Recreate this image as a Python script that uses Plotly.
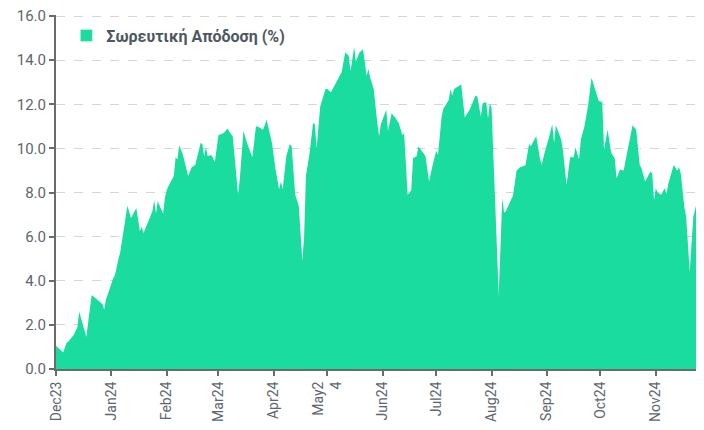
import plotly.graph_objects as go

series_name = "Σωρευτική Απόδοση (%)"

dates = [
    "2023-12-01", "2023-12-05", "2023-12-07", "2023-12-08", "2023-12-11", "2023-12-13", "2023-12-14",
    "2023-12-18", "2023-12-20", "2023-12-21", "2023-12-24", "2023-12-27", "2023-12-28", "2023-12-29",
    "2024-01-02", "2024-01-03", "2024-01-05", "2024-01-06", "2024-01-10", "2024-01-12", "2024-01-15",
    "2024-01-17", "2024-01-18", "2024-01-19", "2024-01-24", "2024-01-25", "2024-01-26", "2024-01-27",
    "2024-01-30", "2024-01-31", "2024-02-01", "2024-02-02", "2024-02-05", "2024-02-06", "2024-02-07",
    "2024-02-08", "2024-02-10", "2024-02-13", "2024-02-15", "2024-02-17", "2024-02-20", "2024-02-21",
    "2024-02-22", "2024-02-23", "2024-02-24", "2024-02-26", "2024-02-28", "2024-03-01", "2024-03-04",
    "2024-03-06", "2024-03-08", "2024-03-09", "2024-03-12", "2024-03-13", "2024-03-15", "2024-03-17",
    "2024-03-20", "2024-03-22", "2024-03-23", "2024-03-26", "2024-03-28", "2024-03-31", "2024-04-02",
    "2024-04-04", "2024-04-05", "2024-04-06", "2024-04-08", "2024-04-10", "2024-04-11", "2024-04-13",
    "2024-04-15", "2024-04-17", "2024-04-18", "2024-04-19", "2024-04-21", "2024-04-23", "2024-04-24",
    "2024-04-25", "2024-04-27", "2024-04-30", "2024-05-01", "2024-05-03", "2024-05-06", "2024-05-09",
    "2024-05-11", "2024-05-13", "2024-05-14", "2024-05-16", "2024-05-17", "2024-05-19", "2024-05-21",
    "2024-05-23", "2024-05-24", "2024-05-25", "2024-05-27", "2024-05-29", "2024-05-30", "2024-05-31",
    "2024-06-03", "2024-06-04", "2024-06-06", "2024-06-08", "2024-06-10", "2024-06-12", "2024-06-13",
    "2024-06-15", "2024-06-17", "2024-06-18", "2024-06-20", "2024-06-21", "2024-06-25", "2024-06-27",
    "2024-06-29", "2024-07-01", "2024-07-02", "2024-07-04", "2024-07-05", "2024-07-08", "2024-07-09",
    "2024-07-10", "2024-07-11", "2024-07-13", "2024-07-15", "2024-07-17", "2024-07-20", "2024-07-23",
    "2024-07-24", "2024-07-26", "2024-07-27", "2024-07-29", "2024-07-30", "2024-07-31", "2024-08-01",
    "2024-08-05", "2024-08-07", "2024-08-08", "2024-08-09", "2024-08-12", "2024-08-13", "2024-08-15",
    "2024-08-17", "2024-08-19", "2024-08-20", "2024-08-22", "2024-08-23", "2024-08-26", "2024-08-28",
    "2024-08-29", "2024-08-31", "2024-09-02", "2024-09-04", "2024-09-05", "2024-09-06", "2024-09-09",
    "2024-09-10", "2024-09-12", "2024-09-14", "2024-09-16", "2024-09-17", "2024-09-19", "2024-09-20",
    "2024-09-22", "2024-09-24", "2024-09-26", "2024-09-30", "2024-10-02", "2024-10-03", "2024-10-05",
    "2024-10-07", "2024-10-09", "2024-10-10", "2024-10-12", "2024-10-14", "2024-10-16", "2024-10-19",
    "2024-10-21", "2024-10-23", "2024-10-24", "2024-10-26", "2024-10-29", "2024-10-30", "2024-10-31",
    "2024-11-01", "2024-11-02", "2024-11-04", "2024-11-06", "2024-11-07", "2024-11-08", "2024-11-11",
    "2024-11-13", "2024-11-14", "2024-11-15", "2024-11-17", "2024-11-18", "2024-11-20", "2024-11-22",
    "2024-11-25", "2024-11-28",
]

values = [
    1.05, 0.75, 1.2, 1.25, 1.55, 1.9, 2.6,
    1.45, 2.75, 3.35, 3.15, 2.95, 2.7, 3.15,
    4.1, 4.25, 5.0, 5.3, 7.4, 6.85, 7.3,
    6.25, 6.45, 6.15, 7.15, 7.65, 7.05, 7.6,
    7.05, 7.75, 8.1, 8.3, 8.75, 9.6, 9.5,
    10.15, 9.75, 8.75, 9.15, 9.25, 10.25, 10.2,
    9.65, 10.05, 9.65, 9.7, 9.4, 10.6, 10.7,
    10.9, 10.65, 10.55, 7.9, 8.65, 10.8, 10.25,
    9.6, 11.0, 11.0, 10.85, 11.3, 10.25, 9.05,
    8.15, 8.5, 8.15, 9.65, 10.2, 10.1, 7.9,
    7.4, 4.9, 6.0, 8.75, 9.75, 11.15, 11.1,
    10.0, 11.9, 12.7, 12.7, 12.55, 13.0, 13.45,
    14.35, 14.2, 13.5, 14.6, 13.95, 14.35, 14.5,
    13.3, 13.6, 13.2, 12.7, 11.15, 10.55, 11.1,
    11.75, 10.8, 11.6, 11.4, 11.15, 10.6, 10.7,
    7.9, 8.1, 9.55, 9.65, 10.1, 9.65, 8.5,
    9.25, 9.9, 9.7, 11.45, 11.8, 12.2, 12.7,
    12.4, 12.7, 12.8, 12.9, 11.4, 11.8, 12.4,
    12.35, 11.45, 12.05, 12.1, 11.35, 12.05, 11.85,
    3.35, 7.75, 7.1, 7.15, 7.7, 7.85, 9.0,
    9.15, 9.2, 9.25, 10.2, 10.1, 10.55, 9.6,
    9.25, 9.9, 10.45, 11.1, 10.25, 11.05, 10.4,
    9.9, 8.35, 9.6, 9.6, 10.05, 9.5, 10.4,
    11.0, 11.9, 13.2, 12.15, 12.1, 9.95, 10.85,
    9.8, 9.55, 8.65, 9.05, 9.0, 9.85, 11.05,
    10.85, 9.25, 9.1, 8.5, 8.95, 8.85, 7.65,
    8.2, 8.0, 7.9, 8.2, 7.95, 8.4, 9.25,
    9.0, 9.15, 8.85, 7.35, 6.9, 4.4, 6.9,
    7.9, 8.6,
]

tick_dates = [
    "2023-12-01", "2024-01-01", "2024-02-01", "2024-03-01", "2024-04-01", "2024-05-01",
    "2024-06-01", "2024-07-01", "2024-08-01", "2024-09-01", "2024-10-01", "2024-11-01",
]
tick_labels = [
    "Dec23", "Jan24", "Feb24", "Mar24", "Apr24", "May2<br>4",
    "Jun24", "Jul24", "Aug24", "Sep24", "Oct24", "Nov24",
]
y_ticks = [0, 2, 4, 6, 8, 10, 12, 14, 16]
y_tick_labels = ["0.0", "2.0", "4.0", "6.0", "8.0", "10.0", "12.0", "14.0", "16.0"]

GREEN = "#19DC9E"
TXT = "#5b666e"
FONT = "Roboto, 'Noto Sans', sans-serif"

fig = go.Figure()
fig.add_trace(go.Scatter(
    x=dates, y=values, mode="none", fill="tozeroy", fillcolor=GREEN,
    name=series_name, showlegend=False, hoverinfo="x+y",
))
fig.add_trace(go.Bar(
    x=[None], y=[None], marker_color=GREEN, name=series_name, showlegend=True,
))

# the page body adds an 8px offset; the figure is sized so the plot area
# lands at 56..704 x 16..369 in the window
fig.update_layout(
    autosize=False,
    width=696, height=414,
    margin=dict(l=48, r=0, t=7, b=53, autoexpand=False),
    paper_bgcolor="white", plot_bgcolor="white",
    font=dict(family=FONT, color=TXT),
    showlegend=True,
    legend=dict(
        x=0.016, y=0.99, xanchor="left", yanchor="top",
        bgcolor="rgba(0,0,0,0)",
        font=dict(family=FONT, size=16, color="#4d5860", weight="bold"),
        itemwidth=30,
    ),
    xaxis=dict(
        type="date",
        range=["2023-12-01", "2024-11-28"],
        tickmode="array", tickvals=tick_dates, ticktext=tick_labels,
        tickangle=-90,
        tickfont=dict(family=FONT, size=14, color=TXT),
        ticks="outside", ticklen=5, tickcolor="#6b6b6b", tickwidth=1.5,
        showgrid=False, zeroline=False,
        showline=True, linecolor="#6b6b6b", linewidth=2,
        automargin=False, ticklabeloverflow="allow",
    ),
    yaxis=dict(
        range=[0, 16.05],
        tickmode="array", tickvals=y_ticks, ticktext=y_tick_labels,
        tickfont=dict(family=FONT, size=15, color=TXT),
        ticks="outside", ticklen=5, tickcolor="#6b6b6b", tickwidth=1.5,
        showgrid=True, gridcolor="#d6d6d6", griddash="dash", gridwidth=1,
        zeroline=False,
        showline=True, linecolor="#6b6b6b", linewidth=2,
        automargin=False, ticklabeloverflow="allow",
    ),
)

fig.write_html("out.html", config={"responsive": False})
